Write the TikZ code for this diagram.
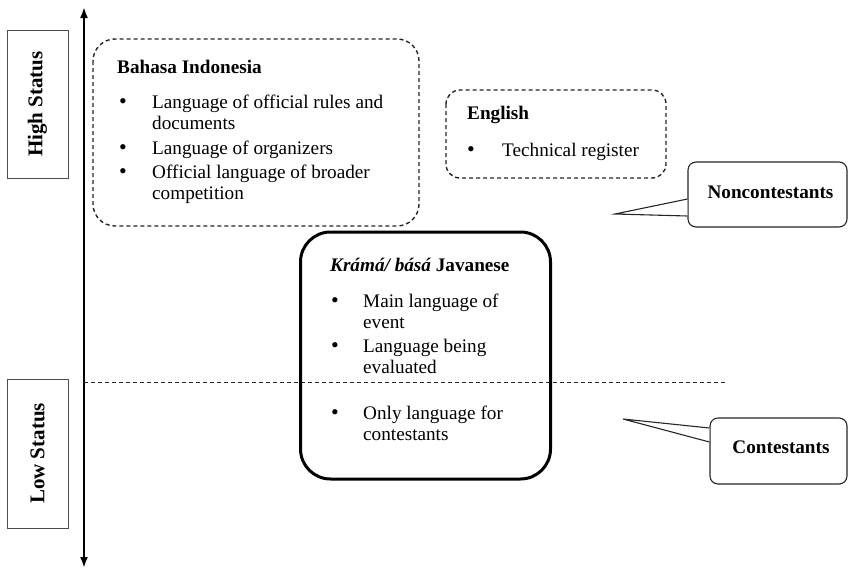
\documentclass[tikz,border=0pt]{standalone}
\usepackage{fontspec}
\setmainfont{Liberation Serif}
\usetikzlibrary{arrows.meta}
\begin{document}
\begin{tikzpicture}[x=1pt,y=-1pt,
  txt/.style={anchor=base west,inner sep=0pt,font=\fontsize{19.2}{22}\selectfont},
  ttl/.style={txt,font=\fontsize{19.2}{22}\selectfont\bfseries},
  bul/.style={anchor=base,inner sep=0pt,font=\fontsize{22}{24}\selectfont},
  dbox/.style={draw=black!85,dashed,dash pattern=on 4pt off 3pt,line width=1.4pt,rounded corners=22pt},
  sbox/.style={draw=black!70,line width=1pt,fill=white},
  callout/.style={draw=black!85,line width=1.1pt,rounded corners=8pt,fill=white},
  ]
\useasboundingbox (0,0) rectangle (848,571);
% axis
\coordinate (top) at (84,7);
\coordinate (bot) at (84,568);
\draw[line width=2pt,{Latex[length=11pt,width=8pt]}-{Latex[length=11pt,width=8pt]}] (bot) -- (top);
% status boxes
\node[sbox,minimum width=61pt,minimum height=148pt] (hs) at (37.5,104) {};
\node[rotate=90,font=\fontsize{21}{24}\selectfont\bfseries] (hst) at (hs.center) {High Status};
\node[sbox,minimum width=61pt,minimum height=149pt] (ls) at (37.5,453.5) {};
\node[rotate=90,font=\fontsize{21}{24}\selectfont\bfseries] (lst) at (ls.center) {Low Status};
% dashed line
\coordinate (dl) at (84,382.5);
\coordinate (dr) at (725,382.5);
\draw[dashed,dash pattern=on 4pt off 3pt,line width=1.7pt,black!85] (dl) -- (dr);
% Bahasa Indonesia
\draw[dbox] (93,39) rectangle (419,226);
\node[ttl] (bi) at (117,73) {Bahasa Indonesia};
\node[bul] (b1) at (123,108) {\textbullet};
\node[txt] (bi1) at (152,108) {Language of official rules and};
\node[txt] (bi1b) at (152,129) {documents};
\node[bul] (b2) at (123,154) {\textbullet};
\node[txt] (bi2) at (152,154) {Language of organizers};
\node[bul] (b3) at (123,178) {\textbullet};
\node[txt] (bi3) at (152,178) {Official language of broader};
\node[txt] (bi3b) at (152,199) {competition};
% English
\draw[dbox,rounded corners=14pt] (446,90) rectangle (666,178);
\node[ttl] (en) at (467,119) {English};
\node[bul] (b4) at (471,156) {\textbullet};
\node[txt] (en1) at (502,156) {Technical register};
% Krama
\node[draw=black,line width=3pt,rounded corners=30pt,minimum width=250pt,minimum height=247pt] (kr) at (425.5,355.5) {};
\node[ttl] (krt) at (330,271) {\textit{Krámá/ básá} Javanese};
\node[bul] (b5) at (335,307) {\textbullet};
\node[txt] (k1) at (363,307) {Main language of};
\node[txt] (k1b) at (363,328) {event};
\node[bul] (b6) at (335,352) {\textbullet};
\node[txt] (k2) at (363,352) {Language being};
\node[txt] (k2b) at (363,373) {evaluated};
\node[bul] (b7) at (335,419) {\textbullet};
\node[txt] (k3) at (363,419) {Only language for};
\node[txt] (k3b) at (363,440) {contestants};
% Noncontestants callout
\node[callout,minimum width=159pt,minimum height=65pt] (nc) at (767.5,194.5) {};
\node[anchor=base,inner sep=0pt,font=\fontsize{19.2}{22}\selectfont\bfseries] (nct) at (770.5,198) {Noncontestants};
\coordinate (nctip) at (615,214);
\fill[white] ([yshift=-4pt]nc.west) -- (nctip) -- ([yshift=-22pt]nc.west) -- cycle;
\draw[black!85,line width=1.1pt] ([yshift=-4.5pt]nc.west) -- (nctip) -- ([yshift=-21.5pt]nc.west);
% Contestants callout
\node[callout,minimum width=137pt,minimum height=66pt] (ct) at (778.5,451) {};
\node[anchor=base,inner sep=0pt,font=\fontsize{19.2}{22}\selectfont\bfseries] (ctt) at (781,453) {Contestants};
\coordinate (cttip) at (623,419);
\fill[white] ([yshift=23.5pt]ct.west) -- (cttip) -- ([yshift=8.5pt]ct.west) -- cycle;
\draw[black!85,line width=1.1pt] ([yshift=23pt]ct.west) -- (cttip) -- ([yshift=9pt]ct.west);
\end{tikzpicture}
\end{document}
